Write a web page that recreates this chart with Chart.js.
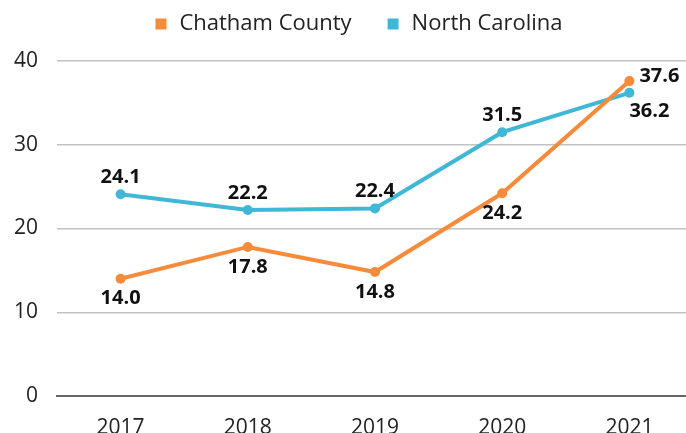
<!DOCTYPE html>
<html>
<head>
<meta charset="utf-8">
<script src="https://cdn.jsdelivr.net/npm/chart.js@4"></script>
<style>
  html, body { margin:0; padding:0; background:#fff; overflow:hidden; }
  #wrap { width:698px; height:433px; }
</style>
</head>
<body>
<div id="wrap"><canvas id="c" width="698" height="433"></canvas></div>
<script>
const years         = ['2017', '2018', '2019', '2020', '2021'];
const chatham       = [14.0, 17.8, 14.8, 24.2, 37.6];
const northCarolina = [24.1, 22.2, 22.4, 31.5, 36.2];

const ORANGE = '#F68B3C';
const CYAN   = '#41B7D6';
const FONT   = "'Open Sans', 'DejaVu Sans', sans-serif";

// value labels next to each point
const pointLabels = {
  id: 'pointLabels',
  afterDatasetsDraw(chart) {
    const ctx = chart.ctx;
    ctx.save();
    ctx.font = 'bold 20px ' + FONT;
    ctx.fillStyle = '#111';
    ctx.textBaseline = 'middle';
    chart.data.datasets.forEach((ds, i) => {
      const meta = chart.getDatasetMeta(i);
      meta.data.forEach((pt, j) => {
        const pos = ds.labelPos[j];
        const txt = ds.data[j].toFixed(1);
        let x = pt.x, y = pt.y;
        ctx.textAlign = 'center';
        if (pos === 'above') y -= 17;
        else if (pos === 'below') y += 20;
        else if (pos === 'right') { ctx.textAlign = 'left'; x += 10; y -= 5; }
        else if (pos === 'belowRight') { x += 20; y += 18; }
        ctx.fillText(txt, x, y);
      });
    });
    ctx.restore();
  }
};

// legend drawn on top, squares + names
const topLegend = {
  id: 'topLegend',
  afterDraw(chart) {
    const ctx = chart.ctx;
    ctx.save();
    ctx.font = '22px ' + FONT;
    ctx.textBaseline = 'middle';
    const box = 11, gap = 13, spacing = 36;
    const items = chart.data.datasets.map(ds => ({ text: ds.label, color: ds.borderColor, w: ctx.measureText(ds.label).width }));
    let total = 0;
    items.forEach((it, i) => { total += box + gap + it.w + (i ? spacing : 0); });
    let x = 359 - total / 2;
    const cy = 24;
    items.forEach(it => {
      ctx.fillStyle = it.color;
      ctx.fillRect(x, cy - box / 2, box, box);
      ctx.fillStyle = '#222';
      ctx.textAlign = 'left';
      ctx.fillText(it.text, x + box + gap, cy);
      x += box + gap + it.w + spacing;
    });
    ctx.restore();
  }
};

new Chart(document.getElementById('c'), {
  type: 'line',
  data: {
    labels: years,
    datasets: [
      { label:'Chatham County', data: chatham, borderColor: ORANGE, backgroundColor: ORANGE,
        borderWidth: 4, pointRadius: 5, pointBorderWidth: 0, tension: 0,
        labelPos: ['below', 'below', 'below', 'below', 'right'] },
      { label:'North Carolina', data: northCarolina, borderColor: CYAN, backgroundColor: CYAN,
        borderWidth: 4, pointRadius: 5, pointBorderWidth: 0, tension: 0,
        labelPos: ['above', 'above', 'above', 'above', 'belowRight'] }
    ]
  },
  options: {
    responsive: false,
    animation: false,
    layout: { padding: { top: 61, left: 0, right: 0, bottom: 0 } },
    plugins: { legend: { display: false }, tooltip: { enabled: false } },
    scales: {
      x: {
        offset: true,
        grid: { display: false, drawTicks: false },
        border: { display: true, color: '#666', width: 2 },
        ticks: { color: '#222', font: { family: FONT, size: 21 }, padding: 19 },
        afterFit(axis) { axis.height = 37; }
      },
      y: {
        min: 0, max: 40,
        ticks: { stepSize: 10, color: '#222', font: { family: FONT, size: 21 }, padding: 19 },
        grid: { color: '#C2C2C2', lineWidth: 1.5, drawTicks: false },
        border: { display: false },
        afterFit(axis) { axis.width = 57; }
      }
    }
  },
  plugins: [pointLabels, topLegend]
});
</script>
</body>
</html>
